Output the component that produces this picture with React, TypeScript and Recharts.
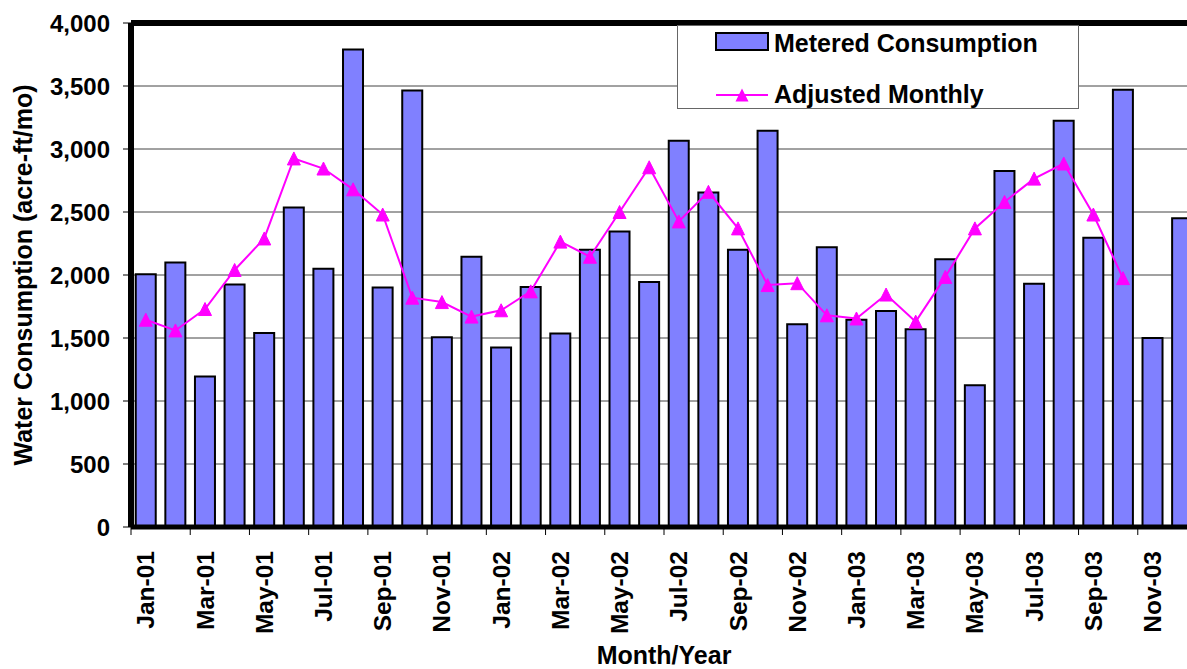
import {
  ComposedChart,
  Bar,
  Line,
  XAxis,
  YAxis,
  CartesianGrid,
  Legend,
  ReferenceLine,
} from "recharts";

const months = [
  "Jan-01", "Feb-01", "Mar-01", "Apr-01", "May-01", "Jun-01",
  "Jul-01", "Aug-01", "Sep-01", "Oct-01", "Nov-01", "Dec-01",
  "Jan-02", "Feb-02", "Mar-02", "Apr-02", "May-02", "Jun-02",
  "Jul-02", "Aug-02", "Sep-02", "Oct-02", "Nov-02", "Dec-02",
  "Jan-03", "Feb-03", "Mar-03", "Apr-03", "May-03", "Jun-03",
  "Jul-03", "Aug-03", "Sep-03", "Oct-03", "Nov-03", "Dec-03",
];

// acre-ft per month
const metered = [
  2005, 2100, 1195, 1925, 1540, 2535, 2050, 3790, 1900, 3465, 1505, 2145,
  1425, 1905, 1535, 2200, 2345, 1945, 3065, 2655, 2200, 3145, 1610, 2220,
  1645, 1715, 1570, 2125, 1125, 2825, 1930, 3225, 2295, 3470, 1500, 2450,
];

const adjusted = [
  1645, 1560, 1730, 2040, 2290, 2925, 2845, 2680, 2480, 1820, 1785, 1670,
  1720, 1870, 2265, 2145, 2500, 2855, 2425, 2660, 2370, 1920, 1935, 1680,
  1655, 1845, 1630, 1985, 2370, 2580, 2765, 2885, 2480, 1975, null, null,
];

const yTicks = [0, 500, 1000, 1500, 2000, 2500, 3000, 3500, 4000];

const data = months.map((m, i) => ({
  month: m,
  metered: metered[i],
  adjusted: adjusted[i],
}));

const FONT = '"Liberation Sans", Arial, sans-serif';
const CHART_W = 1201;
const CHART_H = 669;
const Y_AXIS_W = 131;
const MARGIN = { top: 23, right: 4, bottom: 0, left: 0 };
const BAND = (CHART_W - Y_AXIS_W - MARGIN.left - MARGIN.right) / months.length;

const BAR_FILL = "#8080FF";
const LINE_COLOR = "#FF00FF";

function MonthTick(props: any) {
  const { x, y, payload } = props;
  const ly = y + 24;
  return (
    <g>
      <line x1={x - BAND / 2} x2={x - BAND / 2} y1={y} y2={y + 8} stroke="#000" strokeWidth={1} />
      <text
        x={x}
        y={ly}
        transform={`rotate(-90 ${x} ${ly})`}
        textAnchor="end"
        dominantBaseline="central"
        fontFamily={FONT}
        fontWeight="bold"
        fontSize={24.5}
        fill="#000"
      >
        {payload.value}
      </text>
    </g>
  );
}

function TriangleDot(props: any) {
  const { cx, cy, value } = props;
  if (value == null || cx == null || cy == null) return <g />;
  const r = 6.5;
  return (
    <polygon
      points={`${cx},${cy - r} ${cx + r},${cy + r} ${cx - r},${cy + r}`}
      fill={LINE_COLOR}
      stroke={LINE_COLOR}
      strokeWidth={1}
    />
  );
}

function YTitle(props: any) {
  const { viewBox } = props;
  const cx = viewBox.x + 23;
  const cy = viewBox.y + viewBox.height / 2;
  return (
    <text
      x={cx}
      y={cy}
      transform={`rotate(-90 ${cx} ${cy})`}
      textAnchor="middle"
      dominantBaseline="central"
      fontFamily={FONT}
      fontWeight="bold"
      fontSize={25}
      fill="#000"
    >
      Water Consumption (acre-ft/mo)
    </text>
  );
}

function XTitle(props: any) {
  const { viewBox } = props;
  return (
    <text
      x={viewBox.x + viewBox.width / 2}
      y={viewBox.y + 128}
      textAnchor="middle"
      dominantBaseline="central"
      fontFamily={FONT}
      fontWeight="bold"
      fontSize={25}
      fill="#000"
    >
      Month/Year
    </text>
  );
}

function LegendBox() {
  return (
    <div
      style={{
        width: 402,
        height: 84,
        boxSizing: "border-box",
        border: "1px solid #666",
        background: "#fff",
      }}
    >
      <svg width={400} height={82} style={{ display: "block", overflow: "visible" }}>
        <rect x={38} y={7} width={52} height={17} fill={BAR_FILL} stroke="#000" strokeWidth={2} />
        <text x={96} y={17} dominantBaseline="central" fontFamily={FONT} fontWeight="bold" fontSize={25} fill="#000">
          Metered Consumption
        </text>
        <line x1={38} x2={90} y1={69} y2={69} stroke={LINE_COLOR} strokeWidth={2} />
        <polygon points="64,62.5 70.5,75.5 57.5,75.5" fill={LINE_COLOR} />
        <text x={96} y={68} dominantBaseline="central" fontFamily={FONT} fontWeight="bold" fontSize={25} fill="#000">
          Adjusted Monthly
        </text>
      </svg>
    </div>
  );
}

export default function App() {
  return (
    <div
      style={{
        position: "fixed",
        left: 0,
        top: 0,
        width: 1187,
        height: 669,
        overflow: "hidden",
        background: "#fff",
      }}
    >
      <ComposedChart width={CHART_W} height={CHART_H} data={data} margin={MARGIN} barCategoryGap="16%">
        <CartesianGrid vertical={false} stroke="#444" strokeWidth={1} />
        <XAxis
          dataKey="month"
          interval={1}
          height={CHART_H - 527}
          tickSize={0}
          tickMargin={0}
          tickLine={false}
          axisLine={{ stroke: "#000", strokeWidth: 5 }}
          tick={<MonthTick />}
          label={<XTitle />}
        />
        <YAxis
          width={Y_AXIS_W}
          domain={[0, 4000]}
          ticks={yTicks}
          interval={0}
          tickSize={8}
          tickMargin={13}
          tickLine={{ stroke: "#000", strokeWidth: 1 }}
          axisLine={{ stroke: "#000", strokeWidth: 6 }}
          tickFormatter={(v: number) => v.toLocaleString("en-US")}
          tick={{ fontFamily: FONT, fontWeight: "bold", fontSize: 24, fill: "#000" }}
          label={<YTitle />}
        />
        <ReferenceLine y={4000} stroke="#000" strokeWidth={6} />
        <Bar dataKey="metered" fill={BAR_FILL} stroke="#000" strokeWidth={2} isAnimationActive={false} />
        <Line
          dataKey="adjusted"
          stroke={LINE_COLOR}
          strokeWidth={2}
          dot={<TriangleDot />}
          activeDot={false}
          connectNulls={false}
          isAnimationActive={false}
        />
        <Legend
          layout="horizontal"
          verticalAlign="middle"
          align="center"
          wrapperStyle={{ position: "absolute", left: 677, top: 25, width: 402, height: 84 }}
          content={<LegendBox />}
        />
      </ComposedChart>
    </div>
  );
}
